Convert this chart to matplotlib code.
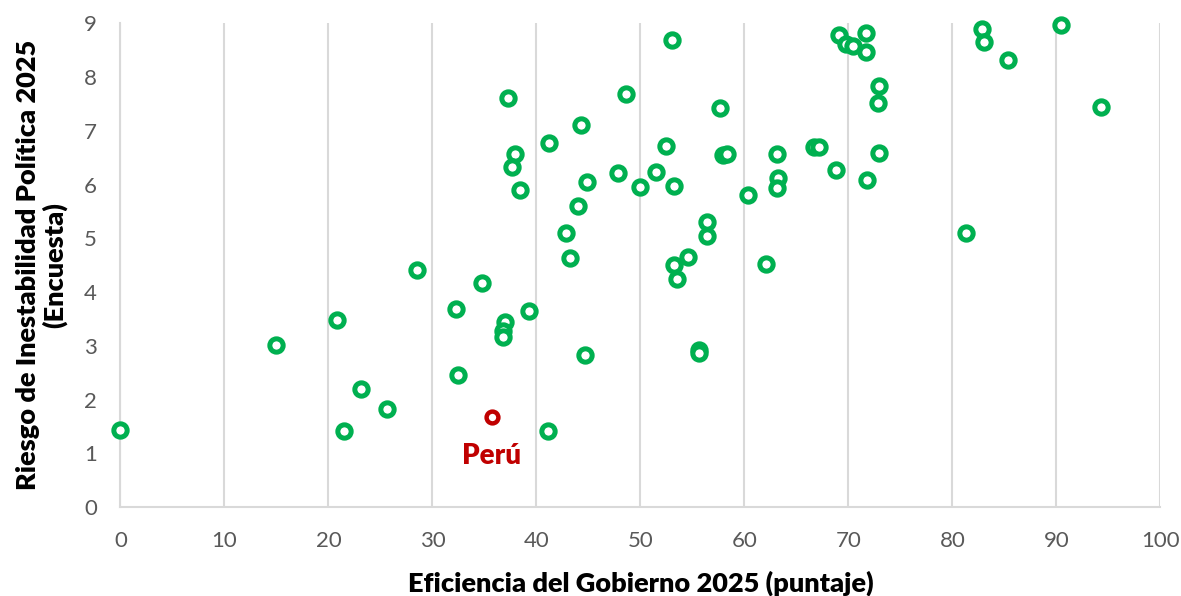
import matplotlib
matplotlib.use("Agg")
import matplotlib.pyplot as plt

# Eficiencia del Gobierno 2025 (puntaje) vs Riesgo de Inestabilidad Politica 2025
eficiencia = [
    0.0, 15.0, 20.8, 21.5, 23.1, 25.6, 28.5, 32.3, 32.5, 34.8,
    37.0, 36.8, 36.8, 39.3, 44.7, 41.1, 55.6, 55.6, 37.3, 37.9,
    37.7, 38.4, 41.2, 44.3, 44.9, 44.0, 42.8, 43.2, 48.6, 47.8,
    50.0, 51.5, 52.5, 53.0, 53.2, 56.4, 56.4, 54.6, 53.2, 53.5,
    57.7, 57.9, 58.3, 60.3, 62.1, 63.1, 63.2, 63.1, 66.7, 67.2,
    68.8, 71.8, 69.1, 69.8, 70.4, 71.7, 71.7, 72.9, 72.8, 72.9,
    81.3, 82.8, 83.0, 85.3, 90.4, 94.3,
]
riesgo = [
    1.43, 3.01, 3.48, 1.42, 2.19, 1.83, 4.41, 3.68, 2.46, 4.17,
    3.45, 3.28, 3.17, 3.65, 2.83, 1.41, 2.93, 2.87, 7.61, 6.57,
    6.33, 5.89, 6.77, 7.10, 6.05, 5.60, 5.10, 4.63, 7.68, 6.21,
    5.95, 6.24, 6.72, 8.68, 5.97, 5.31, 5.05, 4.65, 4.50, 4.24,
    7.43, 6.55, 6.57, 5.81, 4.52, 6.56, 6.13, 5.93, 6.69, 6.70,
    6.27, 6.08, 8.79, 8.61, 8.58, 8.82, 8.46, 7.83, 7.52, 6.59,
    5.09, 8.90, 8.66, 8.32, 8.97, 7.44,
]

peru_x = [35.7]
peru_y = [1.68]
peru_label = "Perú"

x_ticks = list(range(0, 101, 10))
y_ticks = list(range(0, 10))

GREEN = "#00B050"
RED = "#C00000"
GRAY_TXT = "#595959"
GRID = "#D9D9D9"

plt.rcParams["font.family"] = ["Lato", "DejaVu Sans"]


def main():
    fig = plt.figure(figsize=(11.81, 5.96), dpi=100)
    ax = fig.add_axes([120.4 / 1181, 89 / 596, 1040 / 1181, 483.7 / 596])

    ax.plot(
        eficiencia, riesgo, "o",
        markersize=9.6, markerfacecolor="white", markeredgecolor=GREEN,
        markeredgewidth=3.6, linestyle="none", clip_on=False, zorder=3,
    )
    ax.plot(
        peru_x, peru_y, "o",
        markersize=8.5, markerfacecolor="white", markeredgecolor=RED,
        markeredgewidth=3.2, linestyle="none", clip_on=False, zorder=4,
    )
    ax.annotate(
        peru_label, xy=(peru_x[0], peru_y[0]), xytext=(0, -38),
        textcoords="offset points", ha="center", va="bottom",
        fontsize=20, fontweight="heavy", color=RED,
    )

    ax.set_xlim(0, 100)
    ax.set_ylim(0, 9)
    ax.set_xticks(x_ticks)
    ax.set_yticks(y_ticks)
    ax.tick_params(axis="both", length=0, labelsize=16, labelcolor=GRAY_TXT)
    ax.tick_params(axis="x", pad=17)
    ax.tick_params(axis="y", pad=17)

    ax.grid(axis="x", color=GRID, linewidth=1.5)
    ax.set_axisbelow(True)
    for side in ["top", "right"]:
        ax.spines[side].set_visible(False)
    ax.spines["left"].set_color(GRID)
    ax.spines["left"].set_linewidth(1.5)
    ax.spines["bottom"].set_color(GRID)
    ax.spines["bottom"].set_linewidth(1.5)

    ax.set_xlabel("Eficiencia del Gobierno 2025 (puntaje)", fontsize=19.5,
                  fontweight="heavy", color="black", labelpad=14)
    ax.set_ylabel("Riesgo de Inestabilidad Política 2025\n(Encuesta)",
                  fontsize=19.5, fontweight="heavy", color="black",
                  labelpad=12, linespacing=1.1)

    plt.savefig("out.png", dpi=100)


if __name__ == "__main__":
    main()
